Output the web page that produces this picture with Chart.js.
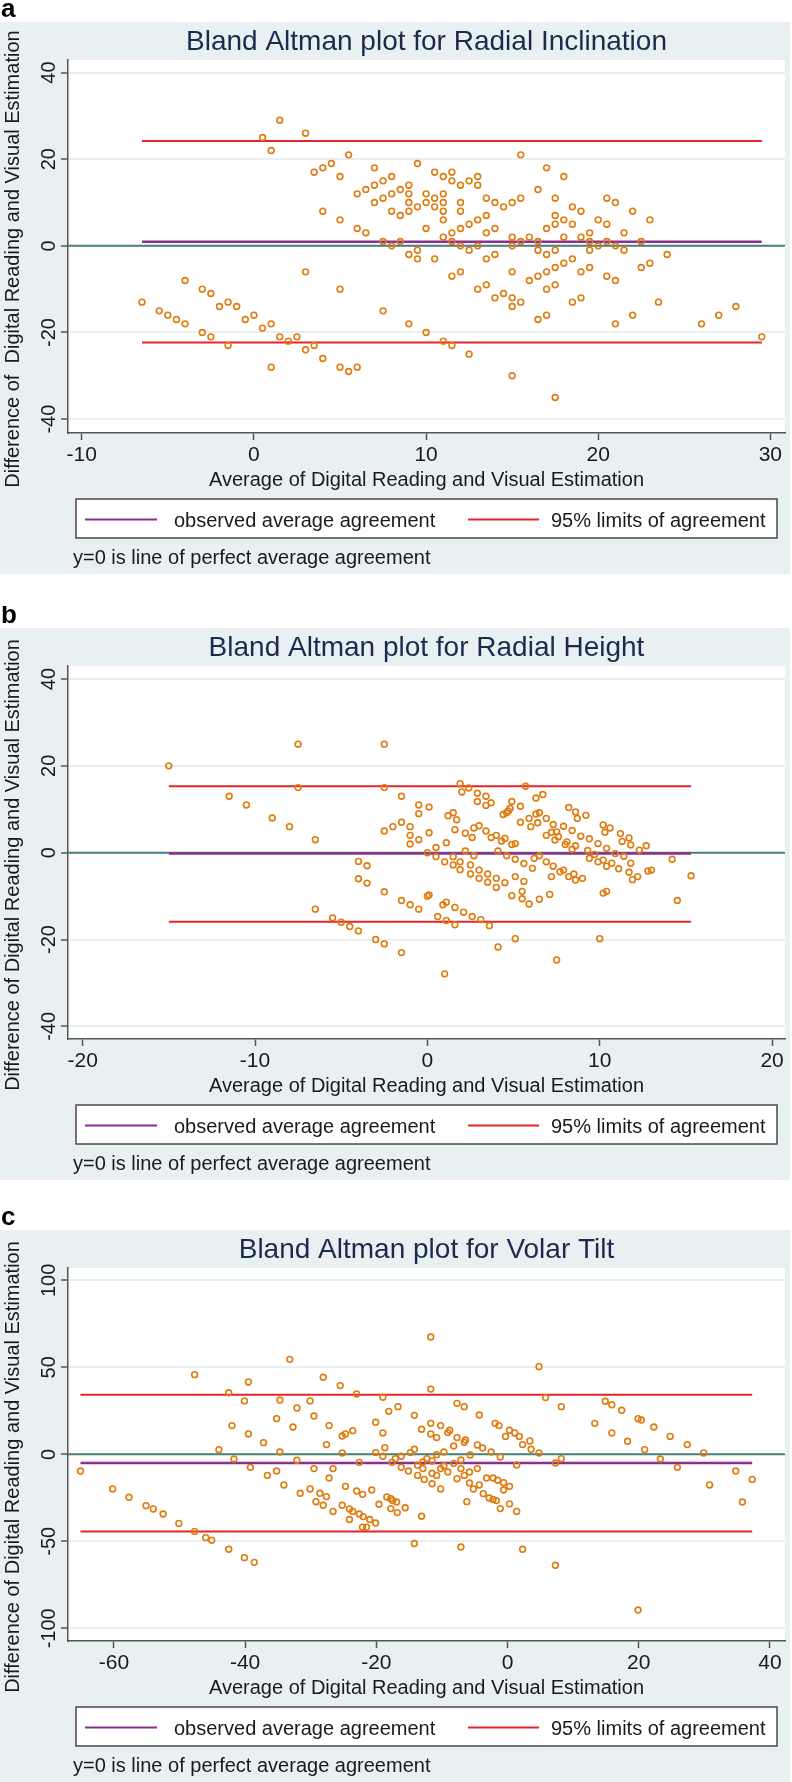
<!DOCTYPE html>
<html>
<head>
<meta charset="utf-8">
<script src="https://cdn.jsdelivr.net/npm/chart.js@4.4.1/dist/chart.umd.min.js"></script>
<style>
  body { margin: 0; background: #fff; }
  .panel { position: absolute; left: 0; width: 792px; height: 574px; }
</style>
</head>
<body>
<canvas id="chartA" class="panel" width="792" height="574" style="top:0px"></canvas>
<canvas id="chartB" class="panel" width="792" height="574" style="top:606px"></canvas>
<canvas id="chartC" class="panel" width="792" height="574" style="top:1208px"></canvas>
<script>
// ---- Panel a: Radial Inclination (average, difference) ----
const avgA = [1.5,0.5,1,3,5.5,3.5,4,4.5,5,7,8,7.5,7,6.5,6,9.5,9,8.5,9,8,7.5,7,9,9.5,9,8.5,8,10,10,4,5,6,6.5,10,7.5,8,8.5,9,9.5,9.5,3,5,-4,-3,-2.5,-6.5,-5.5,-5,-4.5,-4,-3,-2.5,-2,-1.5,-1,-1.5,-0.5,0,0.5,1,1.5,2,2.5,3,3.5,4,1,5,5.5,6,7.5,9,10,
  15.5,10.5,11,11.5,11.5,12,12.5,13,13,10.5,11,11,10.5,11,11,12,12,11,11.5,12,12.5,13,13.5,13.5,14,13.5,14,14.5,15,15.5,11.5,12,12.5,13,10.5,11.5,12,13.5,14,13,13.5,14,14.5,15,15,15.5,15,15,15,15.5,16,16.5,17,18,17.5,17,17.5,17.5,18,18,18.5,18.5,19,19,16.5,16.5,17,17.5,16,16.5,17,17.5,18,18.5,17,17.5,18.5,19,19,19.5,19.5,19.5,19.5,20,20.5,20.5,21,20,20.5,21,21.5,21.5,22,20.5,21,22.5,23,22.5,23,24,23.5,22,21,16.5,17,11,11.5,12.5,15,17.5,26,27,28,29.5];
const diffA = [29,25,22,26,21,17,18,19,16,18,16,15,14,13,12,19,14,13,12,12,11,10,10,9,8,7,8,12,10,8,6,4,3,4,1,0,1,-2,-1,-3,-6,-10,-8,-10,-11,-13,-15,-16,-17,-18,-20,-21,-14,-13,-14,-23,-17,-16,-19,-18,-21,-22,-21,-24,-23,-26,-28,-28,-29,-28,-15,-18,-20,
  21,17,16,17,15,14,15,16,14,11,12,10,9,8,6,10,8,2,3,4,5,6,7,3,4,11,10,9,10,11,1,0,-1,0,-3,-7,-6,-3,-2,-10,-9,-12,-11,-12,-14,-13,-6,2,0,1,2,13,18,16,11,4,5,7,6,2,9,5,8,2,1,-1,-2,-1,-8,-7,-6,-5,-4,-3,-10,-9,-13,-12,-6,-5,-1,3,1,6,5,11,10,0,1,0,3,-1,8,-7,-8,1,6,-5,-4,-2,-13,-16,-18,-17,-16,-22,-23,-25,-30,-35,-18,-16,-14,-21];
const limitsA = [-22.3, 0.95, 24.2];      // lower limit, mean, upper limit
const xTicksA = [-10, 0, 10, 20, 30];
const yTicksA = [-40, -20, 0, 20, 40];

// ---- Panel b: Radial Height ----
const avgB = [-15,-7.5,-2.5,-7.5,-2.5,-11.5,-10.5,-9,-8,-6.5,-1.5,-0.5,-0.5,-1.5,-1,-2,-2.5,-1,-0.5,-1,0,-4,-3.5,-4,-3.5,-2.5,-1.5,-1,-0.5,0,-6.5,-5.5,-5,-4.5,-4,-3,-2.5,-1.5,
  1.9,2.0,2.4,2.9,2.9,3.4,3.4,3.7,5.7,4.9,5.4,4.8,4.7,4.6,4.4,6.3,6.7,0.1,0.1,1.2,1.5,1.7,1.6,2.2,2.6,2.7,3.0,3.4,3.7,4.0,4.3,4.5,4.9,5.1,5.4,5.9,6.0,6.3,6.5,6.4,6.9,7.3,6.9,7.2,7.5,7.6,7.4,7.9,8.2,8.6,8.7,9.2,8.4,8.9,9.4,8.1,8.0,8.6,8.4,10.2,10.6,10.3,9.9,10.4,11.2,11.3,11.7,11.8,12.3,12.7,1.1,0.5,0.5,1.0,1.5,1.5,1.9,1.9,2.2,2.7,2.5,2.5,3.0,3.0,3.5,3.5,4.0,4.0,4.1,4.5,4.6,5.1,5.1,5.6,5.6,6.1,6.2,6.5,6.9,7.3,7.2,7.7,7.9,8.2,8.5,8.6,9.0,9.3,9.4,9.7,9.9,10.2,10.4,10.7,10.9,11.1,11.4,11.7,11.8,11.9,12.2,12.8,13.0,14.2,15.3,14.5,4.9,5.5,5.5,5.9,6.5,7.1,10.2,10.4,0.1,0.9,1.1,1.6,2.1,2.6,3.1,0.6,1.1,1.6,3.6,4.1,5.1,7.5,10.0,1.0];
const diffB = [20,25,25,15,15,13,11,8,6,3,13,11,9,7,6,6,5,4,3,2,0,-2,-3,-6,-7,-9,-11,-12,-13,-10,-13,-15,-16,-17,-18,-20,-21,-23,
  15.9,14.0,14.9,13.7,11.8,13.0,10.9,11.5,15.3,11.8,10.7,10.2,9.6,9.2,8.8,12.6,13.4,10.5,4.6,8.5,9.2,7.6,5.3,4.5,3.5,5.7,6.2,5.0,3.5,4.0,2.7,3.3,1.9,2.1,7.0,7.9,6.0,8.9,9.2,6.9,7.9,6.5,4.0,4.7,4.8,3.7,2.9,6.1,10.4,9.4,7.9,8.6,5.1,3.8,3.2,2.5,1.9,1.6,0.8,6.4,5.7,4.7,2.1,1.0,4.4,2.6,3.4,1.8,0.6,1.6,2.3,1.2,-0.9,-2.1,-0.9,-2.8,-2.1,-3.9,0.4,-0.7,-2.8,-4.9,-4.0,-5.9,-4.9,-6.8,-5.9,-8.0,0.4,-6.9,-0.7,-1.5,-5.5,-2.5,-6.6,-3.6,-1.3,-0.7,-2.1,-3.1,-5.5,-4.4,-4.0,-5.5,-4.9,-6.3,-5.9,0.5,-1.3,-0.4,-2.1,-1.7,-3.1,-2.4,-0.2,-3.7,-0.8,-4.5,-2.4,-6.2,-5.5,-4.2,-4.0,-1.5,-5.3,-11.0,-9.9,-8.9,-10.6,-11.8,-10.7,-9.6,-9.3,-8.9,-9.7,-12.0,-11.4,-12.6,-13.7,-14.7,-15.4,-14.7,-15.6,-16.6,-16.8,-21.7,-19.8,-24.7,-19.8,-27.9];
const limitsB = [-15.9, -0.2, 15.3];
const xTicksB = [-20, -10, 0, 10, 20];
const yTicksB = [-40, -20, 0, 20, 40];

// ---- Panel c: Volar Tilt ----
const avgC = [-65.1,-60.2,-57.7,-55.1,-54.0,-52.5,-50.1,-47.7,-46.0,-45.1,-42.5,-40.1,-38.6,-47.7,-42.5,-39.5,-40.1,-42.0,-39.5,-37.2,-44.0,-41.7,-39.2,-36.6,-35.2,-34.1,-33.2,-34.7,-32.1,-35.2,-32.7,-34.7,-32.1,-29.5,-31.6,-30.1,-28.1,-30.1,-29.5,-25.5,-23.0,-27.2,-27.6,-25.2,-24.7,-23.6,-25.2,-22.6,-26.6,-27.2,-24.7,-28.6,-27.6,-29.2,-28.1,-26.6,-25.2,-24.1,-23.6,-22.6,-22.0,-21.0,-20.1,-24.1,-22.1,-21.5,-23.0,-22.1,-20.7,-19.6,-19.0,-18.1,-16.7,-20.1,-19.0,-18.7,-20.1,-19.0,-17.6,-17.1,-16.2,-16.2,-15.1,-13.7,-18.4,-17.8,-17.5,-16.9,-17.8,-16.8,-15.6,-14.2,-14.2,-14.8,-14.2,-13.7,
  -11.7,-11.7,4.8,5.8,8.2,-7.7,-6.6,-4.3,-11.7,-10.2,-11.7,-10.8,-13.1,-8.8,-9.1,-7.7,-6.4,-6.6,-8.2,-9.7,-10.8,-12.3,-11.5,-12.9,-12.9,-11.5,-10.8,-12.7,-11.5,-10.2,-10.2,-9.1,-9.7,-8.2,-7.1,-7.1,-7.7,-6.6,-5.8,-4.6,-5.7,-4.6,-3.8,-2.5,-1.1,-5.8,-5.2,-4.3,-3.2,-2.2,-1.5,-0.6,0.3,-0.6,-3.7,-2.8,-2.2,-1.7,-1.1,0.3,1.4,-6.2,-13.1,-7.1,2.3,7.3,19.9,-1.9,-1.3,0.3,-0.3,1.1,1.8,2.3,3.4,3.6,4.8,1.4,7.3,8.2,14.9,15.9,17.4,13.3,15.9,18.3,19.9,20.4,22.3,24.8,27.4,29.9,20.9,23.3,25.9,30.8,34.8,37.3,35.8];
const diffC = [-9.6,-19.9,-24.7,-29.5,-31.4,-34.3,-39.7,-44.3,-47.9,-49.4,-54.6,-59.4,-62.1,45.8,35.4,41.6,30.7,16.5,11.7,6.7,2.7,-2.7,-7.5,-12.1,-9.6,-17.6,54.6,31.2,26.6,20.5,15.7,1.3,-3.4,-8.2,-22.4,-19.9,44.3,30.7,22.0,39.5,34.7,16.5,5.6,10.5,11.7,13.6,0.8,-4.6,-8.2,-13.6,-18.4,-22.4,-24.3,-27.2,-29.3,-32.8,-29.3,-31.4,-32.8,-34.3,-35.8,-37.5,-39.5,-37.5,-41.9,-41.9,-21.1,-23.0,-20.5,-28.7,32.8,24.7,27.4,18.4,12.3,3.8,1.0,-1.1,-4.6,-2.5,-1.1,-7.5,-9.6,-12.1,-24.5,-25.5,-26.6,-27.4,-31.2,-33.5,-30.7,-51.3,22.4,1.0,2.9,-6.3,
  67.4,37.5,50.4,32.6,27.4,29.3,27.4,22.6,17.8,16.5,11.7,9.6,14.4,13.8,12.5,9.6,8.2,6.9,4.8,1.3,-0.2,-2.5,-3.8,-4.4,-8.2,-10.9,-12.1,-14.4,-16.9,-19.9,-8.2,-10.2,-6.7,-5.2,-3.3,-8.2,-14.0,-12.1,-10.2,-8.2,-0.4,5.4,3.6,1.3,-1.5,-16.5,-19.9,-17.6,-13.6,-13.6,-14.9,-16.3,-18.4,-20.5,-22.6,-25.1,-25.9,-26.6,-31.2,-28.5,-32.8,-27.2,-35.6,-53.3,-54.6,-63.8,-89.5,17.8,16.5,13.8,10.3,12.3,10.3,5.6,7.7,2.9,0.8,-6.1,-5.0,-2.5,30.5,28.5,25.3,17.8,12.3,7.5,20.5,19.7,15.7,10.3,5.6,0.8,2.7,-2.7,-7.5,-17.6,-9.6,-14.4,-27.4];
const limitsC = [-44.4, -5.0, 34.3];
const xTicksC = [-60, -40, -20, 0, 20, 40];
const yTicksC = [-100, -50, 0, 50, 100];

const FONT = "'Liberation Sans', Arial, Helvetica, sans-serif";

function pairs(xs, ys) {
  return xs.map((x, i) => ({ x: x, y: ys[i] }));
}

// background, titles, rotated y labels and the legend box, Stata style
function panelPlugin(cfg) {
  return {
    id: 'panel' + cfg.letter,
    beforeDraw(chart) {
      const ctx = chart.ctx, a = chart.chartArea;
      ctx.save();
      ctx.fillStyle = '#e8f0f2';
      ctx.fillRect(0, 22, 790, chart.height - 22);
      ctx.fillStyle = '#ffffff';
      ctx.fillRect(a.left, a.top, a.right - a.left, a.bottom - a.top);
      ctx.restore();
    },
    afterDraw(chart) {
      const ctx = chart.ctx, a = chart.chartArea;
      const xs = chart.scales.x, ys = chart.scales.y;
      const cx = (a.left + a.right) / 2;
      ctx.save();
      ctx.fillStyle = '#000';
      ctx.textAlign = 'left';
      ctx.textBaseline = 'alphabetic';
      ctx.font = 'bold 26px ' + FONT;
      ctx.fillText(cfg.letter, 1, 17);

      ctx.fillStyle = '#1c2a4d';
      ctx.textAlign = 'center';
      ctx.font = '28px ' + FONT;
      ctx.fillText(cfg.title, cx, 50);

      ctx.fillStyle = '#1a1a1a';
      ctx.font = '21px ' + FONT;
      cfg.xTicks.forEach(v => ctx.fillText(String(v), xs.getPixelForValue(v), 461));

      ctx.font = '20px ' + FONT;
      cfg.yTicks.forEach(v => {
        ctx.save();
        ctx.translate(55, ys.getPixelForValue(v));
        ctx.rotate(-Math.PI / 2);
        ctx.fillText(String(v), 0, 0);
        ctx.restore();
      });

      ctx.fillText('Average of Digital Reading and Visual Estimation', cx, 486);

      ctx.save();
      ctx.translate(19, 259);
      ctx.rotate(-Math.PI / 2);
      ctx.fillText(cfg.yTitle, 0, 0);
      ctx.restore();

      // legend
      ctx.fillStyle = '#ffffff';
      ctx.fillRect(76, 499, 701, 39);
      ctx.strokeStyle = '#4a4a4a';
      ctx.lineWidth = 1.5;
      ctx.strokeRect(76, 499, 701, 39);
      ctx.lineWidth = 2;
      ctx.strokeStyle = '#8a2f90';
      ctx.beginPath(); ctx.moveTo(85, 519.5); ctx.lineTo(157, 519.5); ctx.stroke();
      ctx.strokeStyle = '#e3242b';
      ctx.beginPath(); ctx.moveTo(468, 519.5); ctx.lineTo(539, 519.5); ctx.stroke();
      ctx.fillStyle = '#1a1a1a';
      ctx.textAlign = 'left';
      ctx.font = '20px ' + FONT;
      ctx.fillText('observed average agreement', 174, 527);
      ctx.fillText('95% limits of agreement', 551, 527);

      ctx.fillText('y=0 is line of perfect average agreement', 73, 564);
      ctx.restore();
    }
  };
}

function makeChart(id, cfg) {
  const lo = Math.min(...cfg.avg), hi = Math.max(...cfg.avg);
  const lineDs = (y, color, width) => ({
    data: [{ x: lo, y: y }, { x: hi, y: y }],
    showLine: true, pointRadius: 0, borderColor: color, borderWidth: width, order: 1
  });
  return new Chart(document.getElementById(id), {
    type: 'scatter',
    data: {
      datasets: [
        {
          data: pairs(cfg.avg, cfg.diff),
          pointStyle: 'circle',
          pointRadius: 2.9,
          pointBorderWidth: 1.6,
          pointBorderColor: '#e07b0f',
          pointBackgroundColor: 'rgba(0,0,0,0)',
          order: 0
        },
        {
          data: [{ x: cfg.xRange[0], y: 0 }, { x: cfg.xRange[1], y: 0 }],
          showLine: true, pointRadius: 0, borderColor: '#48807a', borderWidth: 2, order: 2
        },
        lineDs(cfg.limits[1], '#8a2f90', 2.5),
        lineDs(cfg.limits[2], '#e3242b', 2),
        lineDs(cfg.limits[0], '#e3242b', 2)
      ]
    },
    options: {
      responsive: false,
      animation: false,
      layout: { padding: { left: 68, right: 7, top: 60, bottom: 141 } },
      plugins: { legend: { display: false }, tooltip: { enabled: false } },
      scales: {
        x: {
          type: 'linear',
          min: cfg.xRange[0],
          max: cfg.xRange[1],
          afterBuildTicks: s => { s.ticks = cfg.xTicks.map(v => ({ value: v })); },
          afterFit: s => { s.height = 0; },
          ticks: { display: false },
          grid: { drawOnChartArea: false, drawTicks: true, tickLength: 7, tickColor: '#555', tickWidth: 1.5 },
          border: { display: true, color: '#555', width: 1.5 }
        },
        y: {
          type: 'linear',
          min: cfg.yRange[0],
          max: cfg.yRange[1],
          afterBuildTicks: s => { s.ticks = cfg.yTicks.map(v => ({ value: v })); },
          afterFit: s => { s.width = 0; },
          ticks: { display: false },
          grid: { color: '#e8eff2', lineWidth: 2, drawTicks: true, tickLength: 7, tickColor: '#555', tickWidth: 1.5 },
          border: { display: true, color: '#555', width: 1.5 }
        }
      }
    },
    plugins: [panelPlugin(cfg)]
  });
}

makeChart('chartA', {
  letter: 'a', title: 'Bland Altman plot for Radial Inclination',
  yTitle: 'Difference of  Digital Reading and Visual Estimation',
  avg: avgA, diff: diffA, limits: limitsA, xTicks: xTicksA, yTicks: yTicksA,
  xRange: [-10.8, 30.85], yRange: [-43.2, 42.9]
});
makeChart('chartB', {
  letter: 'b', title: 'Bland Altman plot for Radial Height',
  yTitle: 'Difference of Digital Reading and Visual Estimation',
  avg: avgB, diff: diffB, limits: limitsB, xTicks: xTicksB, yTicks: yTicksB,
  xRange: [-20.85, 20.75], yRange: [-42.9, 43.0]
});
makeChart('chartC', {
  letter: 'c', title: 'Bland Altman plot for Volar Tilt',
  yTitle: 'Difference of Digital Reading and Visual Estimation',
  avg: avgC, diff: diffC, limits: limitsC, xTicks: xTicksC, yTicks: yTicksC,
  xRange: [-67.0, 42.3], yRange: [-107.3, 107.1]
});
</script>
</body>
</html>
